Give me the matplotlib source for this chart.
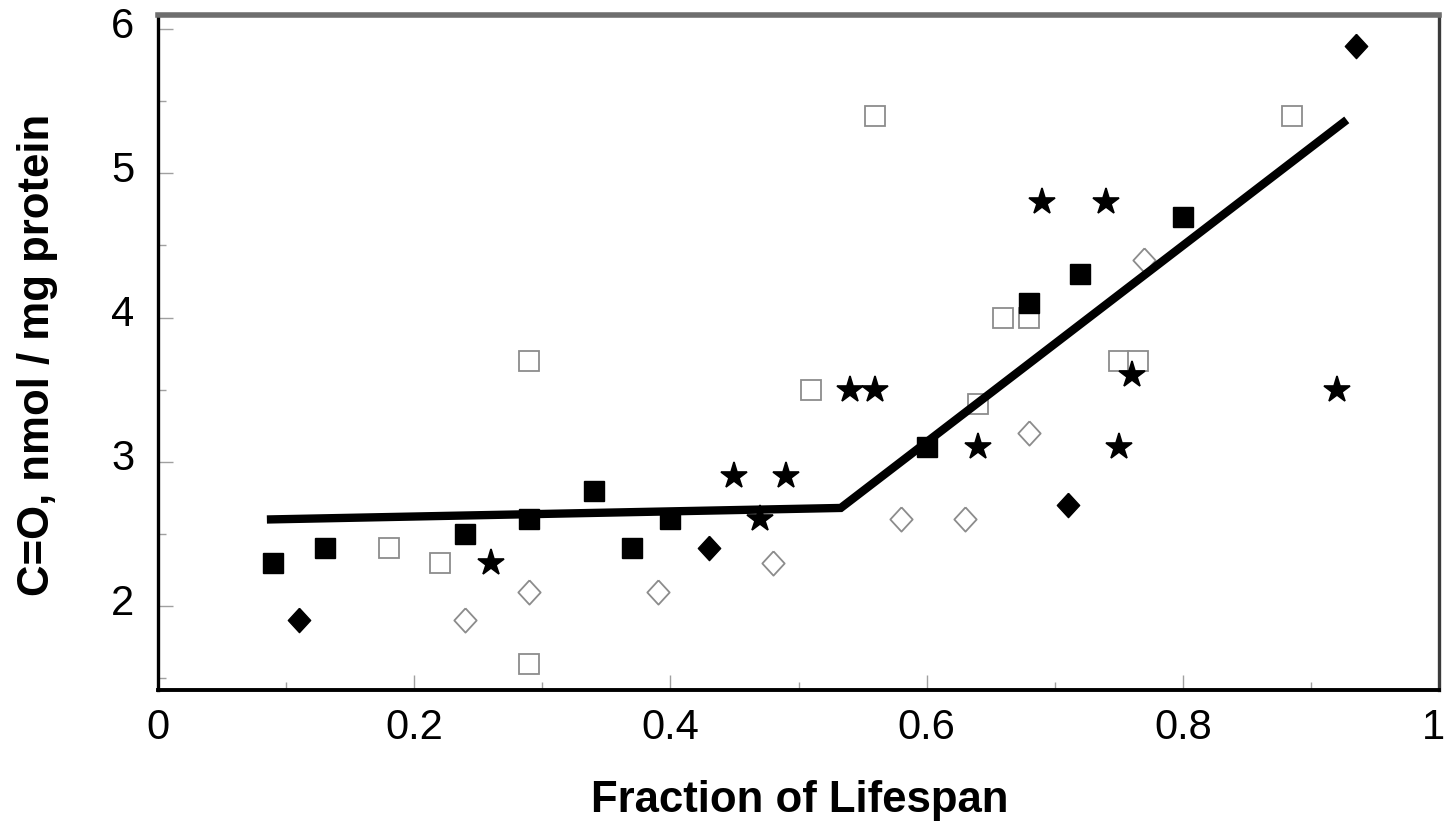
import matplotlib
matplotlib.use("Agg")
import matplotlib.pyplot as plt
from matplotlib.ticker import MultipleLocator, FixedLocator
import matplotlib.transforms as mtransforms

plt.rcParams['font.family'] = ['Liberation Sans', 'DejaVu Sans']

# ---- data ----
filled_sq_x = [0.09, 0.13, 0.24, 0.29, 0.34, 0.37, 0.40, 0.60, 0.68, 0.72, 0.80]
filled_sq_y = [2.3, 2.4, 2.5, 2.6, 2.8, 2.4, 2.6, 3.1, 4.1, 4.3, 4.7]

open_sq_x = [0.18, 0.22, 0.29, 0.29, 0.51, 0.56, 0.64, 0.66, 0.68, 0.75, 0.765, 0.885]
open_sq_y = [2.4, 2.3, 3.7, 1.6, 3.5, 5.4, 3.4, 4.0, 4.0, 3.7, 3.7, 5.4]

star_x = [0.26, 0.45, 0.47, 0.49, 0.54, 0.56, 0.64, 0.69, 0.74, 0.75, 0.76, 0.92]
star_y = [2.3, 2.9, 2.6, 2.9, 3.5, 3.5, 3.1, 4.8, 4.8, 3.1, 3.6, 3.5]

filled_dm_x = [0.11, 0.43, 0.71, 0.935]
filled_dm_y = [1.9, 2.4, 2.7, 5.88]

open_dm_x = [0.24, 0.29, 0.39, 0.48, 0.58, 0.63, 0.68, 0.77]
open_dm_y = [1.9, 2.1, 2.1, 2.3, 2.6, 2.6, 3.2, 4.4]

fit_x = [0.085, 0.533, 0.928]
fit_y = [2.6, 2.68, 5.37]

x_ticks = [0, 0.2, 0.4, 0.6, 0.8, 1.0]
x_ticklabels = ['0', '0.2', '0.4', '0.6', '0.8', '1']
y_ticks = [2, 3, 4, 5, 6]
y_ticklabels = ['2', '3', '4', '5', '6']

xlabel = 'Fraction of Lifespan'
ylabel = 'C=O, nmol / mg protein'

# ---- figure ----
W, H = 1447, 821
fig = plt.figure(figsize=(W / 100, H / 100), dpi=100)
ax = fig.add_axes([158 / W, 1 - 690 / H, (1439 - 158) / W, (690 - 15) / H])
ax.set_xlim(0, 1)
ax.set_ylim(1.418, 6.097)

diamond = [(0, 1), (0.92, 0), (0, -1), (-0.92, 0), (0, 1)]
gray = '#8c8c8c'

ax.plot(open_sq_x, open_sq_y, ls='none', marker='s', ms=14.5, mfc='white',
        mec=gray, mew=1.3, zorder=3)
ax.plot(open_dm_x, open_dm_y, ls='none', marker=diamond, ms=17.5, mfc='white',
        mec=gray, mew=1.3, zorder=3)
ax.plot(filled_sq_x, filled_sq_y, ls='none', marker='s', ms=14.5, mfc='black',
        mec='black', mew=1, zorder=4)
ax.plot(filled_dm_x, filled_dm_y, ls='none', marker=diamond, ms=17.5, mfc='black',
        mec='black', mew=1, zorder=4)
ax.plot(star_x, star_y, ls='none', marker='*', ms=20, mfc='black',
        mec='black', mew=1.2, zorder=4)
ax.plot(fit_x, fit_y, color='black', lw=6, solid_capstyle='butt',
        solid_joinstyle='miter', zorder=5)

# ticks
ax.xaxis.set_major_locator(FixedLocator(x_ticks))
ax.set_xticklabels(x_ticklabels)
ax.xaxis.set_minor_locator(MultipleLocator(0.1))
ax.yaxis.set_major_locator(FixedLocator(y_ticks))
ax.set_yticklabels(y_ticklabels)
ax.yaxis.set_minor_locator(MultipleLocator(0.5))

ax.tick_params(which='both', direction='in', color='#a0a0a0', width=1,
               labelsize=30, labelcolor='black')
ax.tick_params(which='major', length=11)
ax.tick_params(which='minor', length=6)
ax.tick_params(axis='x', which='major', pad=13)
ax.tick_params(axis='y', which='major', pad=17)

offset = mtransforms.ScaledTranslation(0, 5 / 72, fig.dpi_scale_trans)
for lab in ax.get_yticklabels():
    lab.set_transform(lab.get_transform() + offset)
last = ax.get_xticklabels()[-1]
last.set_transform(last.get_transform() +
                   mtransforms.ScaledTranslation(-4 / 72, 0, fig.dpi_scale_trans))

# spines
ax.spines['left'].set_color('black')
ax.spines['left'].set_linewidth(2.4)
ax.spines['bottom'].set_color('black')
ax.spines['bottom'].set_linewidth(2.8)
ax.spines['top'].set_color('#6e6e6e')
ax.spines['top'].set_linewidth(4)
ax.spines['right'].set_color('#3a3a3a')
ax.spines['right'].set_linewidth(2.4)

fig.text(800 / W, 1 - 812 / H, xlabel, ha='center', va='baseline',
         fontsize=31.5, fontweight='bold')
fig.text(38 / W, 1 - 355 / H, ylabel, ha='center', va='center', rotation=90,
         fontsize=31.5, fontweight='bold')

fig.savefig('out.png', dpi=100)
